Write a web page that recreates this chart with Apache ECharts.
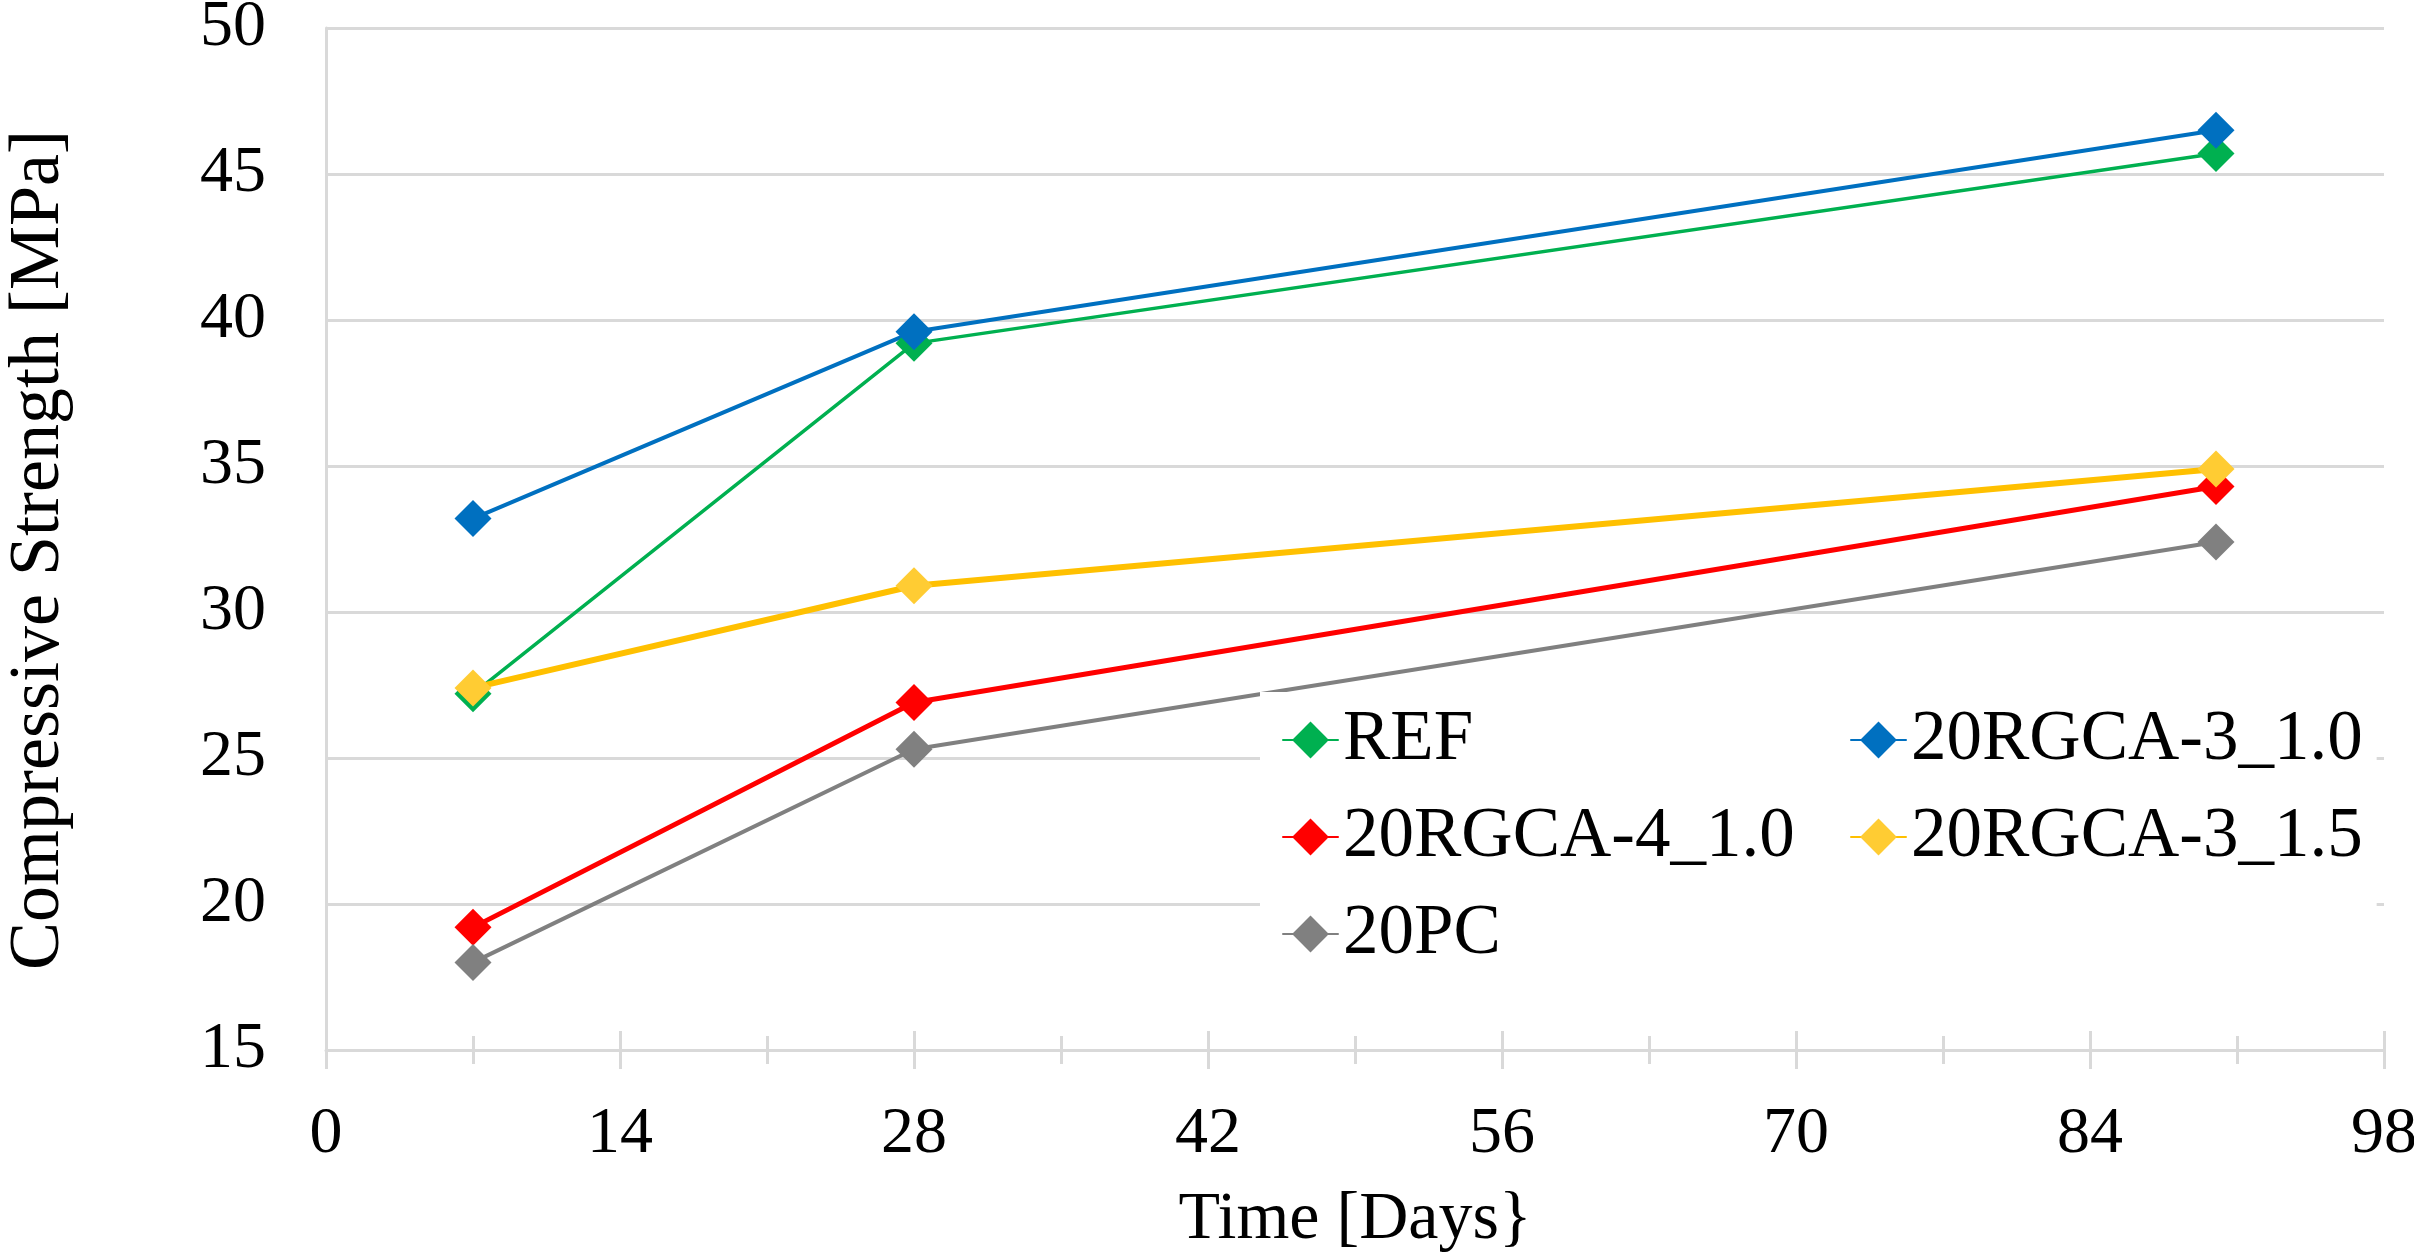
<!DOCTYPE html>
<html>
<head>
<meta charset="utf-8">
<script src="https://cdn.jsdelivr.net/npm/echarts@6/dist/echarts.min.js"></script>
<style>
html,body{margin:0;padding:0;background:#fff;}
#chart{width:2414px;height:1253px;}
</style>
</head>
<body>
<div id="chart"></div>
<script>
// Data
var days = [7, 28, 90];
var seriesNames = ['REF', '20RGCA-3_1.0', '20RGCA-4_1.0', '20RGCA-3_1.5', '20PC'];
var refValues = [27.2, 39.2, 45.7];
var rgca3_10Values = [33.2, 39.6, 46.5];
var rgca4_10Values = [19.2, 26.9, 34.3];
var rgca3_15Values = [27.4, 30.9, 34.9];
var pcValues = [18.0, 25.3, 32.4];
var legendColumn1 = ['REF', '20RGCA-4_1.0', '20PC'];
var legendColumn2 = ['20RGCA-3_1.0', '20RGCA-3_1.5'];
var xTitle = 'Time [Days}';
var yTitle = 'Compressive Strength [MPa]';

var FONT = 'Liberation Serif';
var GRID_COLOR = '#d9d9d9';

function pairs(vals) {
  return days.map(function (d, i) { return [d, vals[i]]; });
}

var styles = [
  { line: '#00B050', marker: '#00B050', width: 3.5 },
  { line: '#0070C0', marker: '#0070C0', width: 4 },
  { line: '#FF0000', marker: '#FF0000', width: 5 },
  { line: '#FFC000', marker: '#FFCC33', width: 6 },
  { line: '#808080', marker: '#808080', width: 4 }
];
var allValues = [refValues, rgca3_10Values, rgca4_10Values, rgca3_15Values, pcValues];

var series = seriesNames.map(function (name, i) {
  return {
    name: name,
    type: 'line',
    xAxisIndex: 0,
    yAxisIndex: 0,
    data: pairs(allValues[i]),
    symbol: 'diamond',
    symbolSize: 37,
    showSymbol: true,
    animation: false,
    lineStyle: { color: styles[i].line, width: styles[i].width, cap: 'round' },
    itemStyle: { color: styles[i].marker, borderWidth: 0 },
    emphasis: { disabled: true }
  };
});

var legendText = { fontFamily: FONT, fontSize: 71, color: '#000', lineHeight: 72 };

var option = {
  backgroundColor: '#fff',
  animation: false,
  grid: { left: 326, right: 30, top: 28, bottom: 203, containLabel: false, outerBoundsMode: 'none' },
  legend: [
    {
      data: legendColumn1,
      orient: 'vertical',
      left: 1260, top: 692,
      padding: [12, 40, 15, 22],
      itemGap: 25,
      itemWidth: 55, itemHeight: 46,
      backgroundColor: '#fff',
      textStyle: legendText,
      selectedMode: false
    },
    {
      data: legendColumn2,
      orient: 'vertical',
      left: 1828, top: 692,
      padding: [12, 14, 112, 22],
      itemGap: 25,
      itemWidth: 55, itemHeight: 46,
      backgroundColor: '#fff',
      textStyle: legendText,
      selectedMode: false
    }
  ],
  xAxis: [
    {
      type: 'value', min: 0, max: 98, interval: 14,
      name: xTitle, nameLocation: 'middle', nameGap: 136,
      nameTextStyle: { fontFamily: FONT, fontSize: 68, color: '#000' },
      axisLine: { show: true, lineStyle: { color: GRID_COLOR, width: 3 } },
      axisTick: { show: true, inside: false, length: 19, lineStyle: { color: GRID_COLOR, width: 3 } },
      minorTick: { show: true, splitNumber: 2, length: 14, lineStyle: { color: GRID_COLOR, width: 3 } },
      axisLabel: { fontFamily: FONT, fontSize: 66, color: '#000', margin: 52 },
      splitLine: { show: false }
    },
    {
      type: 'value', min: 0, max: 98, interval: 14, position: 'bottom', gridIndex: 0,
      axisLine: { show: false },
      axisTick: { show: true, inside: true, length: 19, lineStyle: { color: GRID_COLOR, width: 3 } },
      minorTick: { show: true, splitNumber: 2, length: 14, lineStyle: { color: GRID_COLOR, width: 3 } },
      axisLabel: { show: false },
      splitLine: { show: false }
    }
  ],
  yAxis: {
    type: 'value', min: 15, max: 50, interval: 5,
    name: yTitle, nameLocation: 'middle', nameGap: 251,
    nameTextStyle: { fontFamily: FONT, fontSize: 72, color: '#000', padding: [0, 22, 0, 0] },
    axisLine: { show: true, lineStyle: { color: GRID_COLOR, width: 3 } },
    axisTick: { show: false },
    axisLabel: { fontFamily: FONT, fontSize: 66, color: '#000', margin: 60 },
    splitLine: { show: true, lineStyle: { color: GRID_COLOR, width: 3 } }
  },
  series: series
};

var chart = echarts.init(document.getElementById('chart'), null, { renderer: 'canvas' });
chart.setOption(option);
</script>
</body>
</html>
